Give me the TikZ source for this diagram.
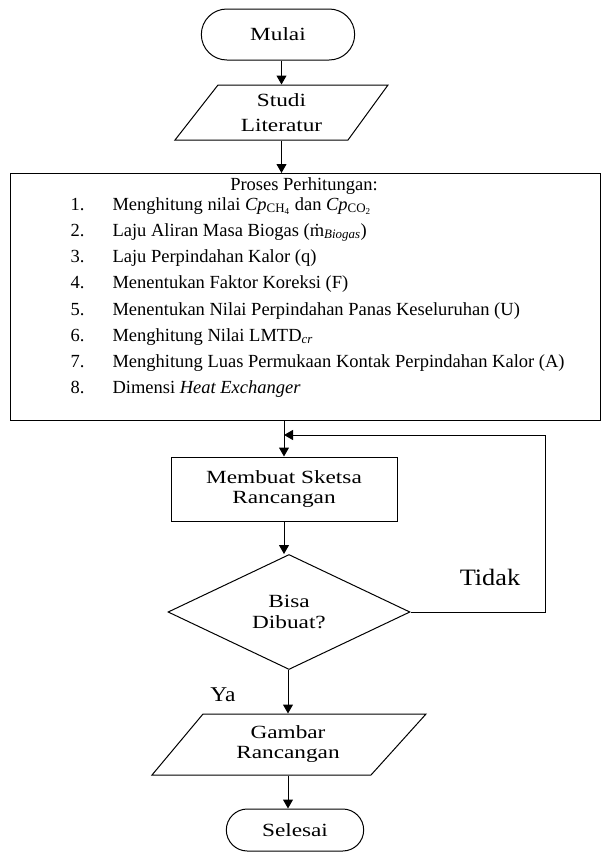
\documentclass[tikz,border=0pt]{standalone}
\usepackage{fontspec}
\setmainfont{Liberation Serif}
\newfontfamily\nodefont[FakeStretch=1.25]{Liberation Serif}
\newfontfamily\lblfont[FakeStretch=1.12]{Liberation Serif}
\usetikzlibrary{arrows.meta,shapes.geometric,shapes.misc}
\begin{document}
\begin{tikzpicture}[x=1pt,y=-1pt,line width=1pt,
  arr/.style={-{Triangle[length=9pt,width=10pt]}},
  ntext/.style={font=\nodefont\fontsize{18.6}{20}\selectfont,align=center},
  boxtext/.style={font=\fontsize{18.5}{22}\selectfont,inner sep=0pt},
  lbl/.style={font=\lblfont\fontsize{23.5}{24}\selectfont,inner sep=0pt}]
\useasboundingbox (0,0) rectangle (602,854);
% Mulai
\node[draw,rounded rectangle,minimum width=160pt,minimum height=51pt,ntext] (mulai) at (278,34.5) {Mulai};
% Studi Literatur
\draw (218,85) -- (388,85) -- (348,140) -- (175,140) -- cycle;
\node[minimum width=130pt,minimum height=55pt,inner sep=0pt,ntext,font=\nodefont\fontsize{18.6}{25}\selectfont] (studi) at (281.5,112.5) {Studi\\Literatur};
% Proses box
\node[draw,line width=1.2pt,anchor=north west,minimum width=590pt,minimum height=247pt,inner sep=0pt] (proses) at (10,173) {};
\node[boxtext,anchor=base] (ptitle) at (304,190) {Proses Perhitungan:};
\node[boxtext,anchor=base west] (n1) at (70,210) {1.};
\node[boxtext,anchor=base west] (t1) at (112,210) {Menghitung nilai \textit{Cp}\textsubscript{CH\textsubscript{4}} dan \textit{Cp}\textsubscript{CO\textsubscript{2}}};
\node[boxtext,anchor=base west] (n2) at (70,236) {2.};
\node[boxtext,anchor=base west] (t2) at (112,236) {Laju Aliran Masa Biogas (ṁ\textsubscript{\textit{Biogas}})};
\node[boxtext,anchor=base west] (n3) at (70,262) {3.};
\node[boxtext,anchor=base west] (t3) at (112,262) {Laju Perpindahan Kalor (q)};
\node[boxtext,anchor=base west] (n4) at (70,288.5) {4.};
\node[boxtext,anchor=base west] (t4) at (112,288.5) {Menentukan Faktor Koreksi (F)};
\node[boxtext,anchor=base west] (n5) at (70,315) {5.};
\node[boxtext,anchor=base west] (t5) at (112,315) {Menentukan Nilai Perpindahan Panas Keseluruhan (U)};
\node[boxtext,anchor=base west] (n6) at (70,341) {6.};
\node[boxtext,anchor=base west] (t6) at (112,341) {Menghitung Nilai LMTD\textsubscript{\textit{cr}}};
\node[boxtext,anchor=base west] (n7) at (70,367) {7.};
\node[boxtext,anchor=base west] (t7) at (112,367) {Menghitung Luas Permukaan Kontak Perpindahan Kalor (A)};
\node[boxtext,anchor=base west] (n8) at (70,393) {8.};
\node[boxtext,anchor=base west] (t8) at (112,393) {Dimensi \textit{Heat Exchanger}};
% Membuat Sketsa
\node[draw,minimum width=226pt,minimum height=64pt,ntext] (sketsa) at (284,489) {Membuat Sketsa\\Rancangan};
% Decision
\node[draw,diamond,aspect=2,minimum width=242pt,minimum height=115pt,inner sep=1pt,ntext,font=\nodefont\fontsize{18.6}{21}\selectfont] (bisa) at (289,612) {Bisa\\Dibuat?};
% Gambar Rancangan
\draw (203,714) -- (426,714) -- (371,775) -- (152,775) -- cycle;
\node[minimum width=150pt,minimum height=61pt,inner sep=0pt,ntext] (gambar) at (288,744.5) {Gambar\\Rancangan};
% Selesai
\node[draw,rounded rectangle,minimum width=144pt,minimum height=42pt,ntext] (selesai) at (295,830) {Selesai};
% labels
\node[lbl] (tidak) at (490,577) {Tidak};
\node[lbl,font=\lblfont\fontsize{21}{22}\selectfont] (ya) at (223,695) {Ya};
% connectors
\draw[arr] (mulai.south -| studi.north) -- (studi.north);
\draw[arr] (studi.south) -- (studi.south |- proses.north);
\draw[arr] (proses.south -| sketsa.north) -- (sketsa.north);
\draw[arr] (sketsa.south) -- (sketsa.south |- bisa.north);
\draw[arr] (bisa.south -| gambar.north) -- (gambar.north);
\draw[arr] (gambar.south) -- (gambar.south |- selesai.north);
\coordinate (loopR) at (545,435);
\draw[arr] (bisa.east) -| (loopR) -- (loopR -| sketsa.north);
\end{tikzpicture}
\end{document}
